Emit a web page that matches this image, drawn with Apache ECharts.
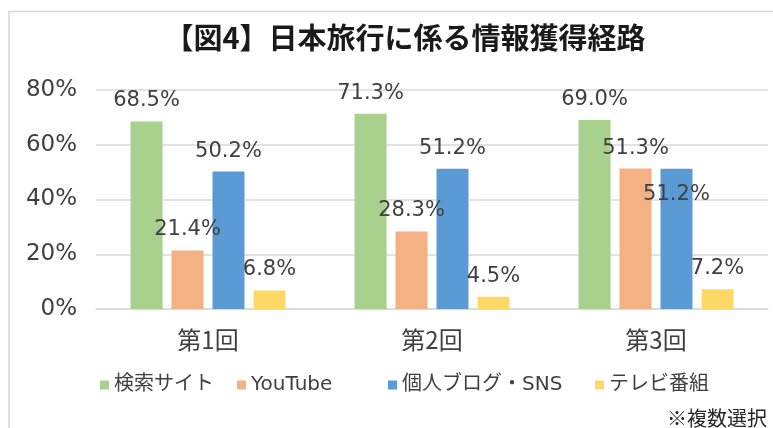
<!DOCTYPE html>
<html>
<head>
<meta charset="utf-8">
<script src="https://cdn.jsdelivr.net/npm/echarts@6/dist/echarts.min.js"></script>
<style>
  html, body { margin: 0; padding: 0; background: #fff; }
  #chart { width: 773px; height: 428px; }
</style>
</head>
<body>
<div id="chart"></div>
<script>
const categories = ['第1回', '第2回', '第3回']
const seriesNames = ['検索サイト', 'YouTube', '個人ブログ・SNS', 'テレビ番組']
const searchSite = [68.5, 71.3, 69.0]
const youtube = [21.4, 28.3, 51.3]
const blogSns = [50.2, 51.2, 51.2]
const tvShow = [6.8, 4.5, 7.2]
const yTicks = [0, 20, 40, 60, 80]

const colors = ['#A9D18E', '#F4B183', '#5B9BD5', '#FFD966']
const font = "'DejaVu Sans', 'Noto Sans CJK JP', sans-serif"
const textColor = '#404040'

const labelStyle = {
  show: true,
  position: 'top',
  distance: 10,
  fontFamily: font,
  fontSize: 21,
  color: textColor,
  formatter: p => p.value.toFixed(1) + '%',
}

const makeSeries = (name, values, idx) => ({
  name: name,
  type: 'bar',
  data: values,
  barWidth: 32,
  barGap: '28%',
  itemStyle: { color: colors[idx] },
  label: labelStyle,
})

const series = [
  makeSeries(seriesNames[0], searchSite, 0),
  makeSeries(seriesNames[1], youtube, 1),
  makeSeries(seriesNames[2], blogSns, 2),
  makeSeries(seriesNames[3], tvShow, 3),
]
// 第3回の個人ブログ・SNSのラベルは棒の中に置かれている
series[2].data = blogSns.map((v, i) =>
  i === 2 ? { value: v, label: { position: 'insideTop', distance: 15 } } : v
)

// 凡例は項目ごとに置く（元画像の間隔に合わせる）
const legendLefts = [100, 237, 388, 595]
const legends = seriesNames.map((n, i) => ({
  left: legendLefts[i],
  top: 375,
  padding: 0,
  itemWidth: 9,
  itemHeight: 9,
  icon: 'rect',
  textStyle: { fontFamily: font, fontSize: 20, color: textColor },
  data: [n],
}))

const options = {
  animation: false,
  graphic: [
    {
      type: 'polyline',
      shape: { points: [[9, 440], [9, 11.5], [800, 11.5]] },
      style: { stroke: '#d9d9d9', lineWidth: 1.5, fill: null },
    },
    {
      type: 'text',
      x: 767,
      y: 418,
      style: {
        text: '※複数選択',
        align: 'right',
        verticalAlign: 'middle',
        font: "20px 'Noto Sans CJK JP'",
        fill: '#262626',
      },
    },
  ],
  title: {
    text: '【図4】日本旅行に係る情報獲得経路',
    left: 405,
    top: 23,
    textAlign: 'center',
    padding: 0,
    textStyle: {
      fontFamily: "'Noto Sans CJK JP', sans-serif",
      fontSize: 29,
      fontWeight: 'bold',
      color: '#1a1a1a',
    },
  },
  legend: legends,
  grid: { left: 96, right: 5, top: 90, bottom: 119 },
  xAxis: {
    type: 'category',
    data: categories,
    axisLine: { lineStyle: { color: '#d9d9d9', width: 1.5 } },
    axisTick: { show: false },
    axisLabel: {
      fontFamily: "'Noto Sans CJK JP', sans-serif",
      fontSize: 24,
      color: textColor,
      margin: 19,
    },
  },
  yAxis: {
    type: 'value',
    min: yTicks[0],
    max: yTicks[yTicks.length - 1],
    interval: 20,
    axisLine: { show: false },
    axisTick: { show: false },
    splitLine: { lineStyle: { color: '#d9d9d9', width: 1.5 } },
    axisLabel: {
      fontFamily: font,
      fontSize: 23,
      color: textColor,
      margin: 19,
      formatter: '{value}%',
    },
  },
  series: series,
}

const chart = echarts.init(document.getElementById('chart'))
chart.setOption(options)
window.onresize = function () {
  chart.resize()
}
</script>
</body>
</html>
